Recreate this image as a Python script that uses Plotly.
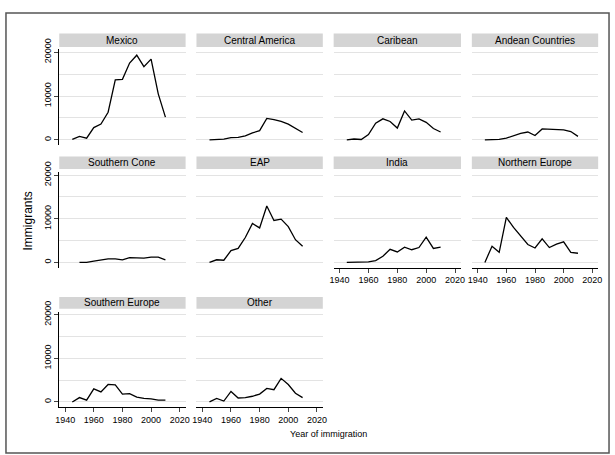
import plotly.graph_objects as go

years = [1945,1950,1955,1960,1965,1970,1975,1980,1985,1990,1995,2000,2005,2010]
regions = ["Mexico","Central America","Caribean","Andean Countries","Southern Cone","EAP",
           "India","Northern Europe","Southern Europe","Other"]
mexico = [100,800,400,2800,3600,6300,13700,13800,17500,19300,16700,18400,10500,5200]
central_america = [0,100,200,500,600,900,1600,2100,4900,4600,4200,3600,2600,1700]
caribean = [0,200,100,1200,3800,4800,4200,2700,6600,4500,4800,4000,2600,1800]
andean = [0,0,100,400,1000,1500,1800,1000,2500,2400,2300,2300,1900,800]
southern_cone = [None,0,0,300,600,800,800,600,1100,1000,1000,1200,1200,600]
eap = [0,600,500,2700,3200,5700,8900,7900,12900,9600,9900,8200,5200,3700]
india = [0,0,0,100,400,1400,3000,2400,3500,2900,3400,5800,3200,3500]
northern_europe = [0,3700,2300,10300,8000,6000,4100,3300,5400,3400,4200,4700,2300,2100]
southern_europe = [0,1000,400,3000,2300,4000,3900,1800,1900,1100,800,700,400,400]
other = [0,800,200,2400,900,1000,1300,1800,3100,2800,5400,4000,2000,1000]
series = [mexico,central_america,caribean,andean,southern_cone,eap,india,northern_europe,southern_europe,other]
y_ticks = [0, 10000, 20000]
y_labels = ["0", "10000", "20000"]
x_ticks = [1940, 1960, 1980, 2000, 2020]

W, H = 615, 455
cols = [(56,184),(195,323),(334,463),(474,602)]
rows = [(39,137.5),(165,263),(308,406)]
strips = [(23,37),(149,162),(293,305)]
bottom = {6,7,8,9}
FONT = "Liberation Sans, Arial, sans-serif"

fig = go.Figure()
layout = dict(width=W, height=H, margin=dict(l=0,r=0,t=0,b=0),
              paper_bgcolor="white", plot_bgcolor="white", showlegend=False,
              font=dict(family=FONT, size=10, color="black"))
shapes, annots = [], []
for i, (name, vals) in enumerate(zip(regions, series)):
    r, c = divmod(i, 4)
    k = i + 1
    xa = "xaxis" if k == 1 else f"xaxis{k}"
    ya = "yaxis" if k == 1 else f"yaxis{k}"
    fig.add_trace(go.Scatter(x=years, y=vals, mode="lines", line=dict(color="black", width=1.3),
                             xaxis=f"x{k}" if k > 1 else "x", yaxis=f"y{k}" if k > 1 else "y",
                             connectgaps=False))
    x0, x1 = cols[c]; y0, y1 = rows[r]
    layout[xa] = dict(domain=[x0/W, x1/W], range=[1935.9, 2024.1], anchor=f"y{k}" if k > 1 else "y",
                      showgrid=False, zeroline=False, tickvals=x_ticks, ticktext=[str(v) for v in x_ticks],
                      showticklabels=i in bottom, showline=i in bottom, linecolor="black",
                      ticks="outside" if i in bottom else "", ticklen=4, tickfont=dict(size=9))
    layout[ya] = dict(domain=[1-y1/H, 1-y0/H], range=[-1200, 20700], anchor=f"x{k}" if k > 1 else "x",
                      showgrid=True, gridcolor="#e3e3e3", gridwidth=1.3, zeroline=False,
                      tickvals=y_ticks, ticktext=y_labels, tickangle=-90, tickfont=dict(size=9),
                      minor=dict(tickvals=[5000,15000], showgrid=True, gridcolor="#e3e3e3", gridwidth=1.3),
                      showticklabels=c == 0, showline=c == 0, linecolor="black",
                      ticks="outside" if c == 0 else "", ticklen=4)
    s0, s1 = strips[r]
    shapes.append(dict(type="rect", xref="paper", yref="paper", x0=x0/W, x1=x1/W,
                       y0=1-s1/H, y1=1-s0/H, fillcolor="#d4d4d4", line=dict(width=0), layer="below"))
    annots.append(dict(text=name, xref="paper", yref="paper", x=(x0+x1)/2/W, y=1-(s0+s1)/2/H,
                       showarrow=False, font=dict(size=10), xanchor="center", yanchor="middle"))
shapes.append(dict(type="rect", xref="paper", yref="paper", x0=2/W, x1=613/W, y0=2/H, y1=453/H,
                   line=dict(color="#555555", width=1.5)))
annots.append(dict(text="Immigrants", xref="paper", yref="paper", x=24/W, y=1-215/H, textangle=-90,
                   showarrow=False, font=dict(size=12), xanchor="center", yanchor="middle"))
annots.append(dict(text="Year of immigration", xref="paper", yref="paper", x=329/W, y=1-433/H,
                   showarrow=False, font=dict(size=9), xanchor="center", yanchor="middle"))
layout["shapes"] = shapes
layout["annotations"] = annots
fig.update_layout(**layout)
fig.write_html("out.html", config={"displayModeBar": False},
               post_script="document.body.style.margin='0';document.body.style.overflow='hidden';")
